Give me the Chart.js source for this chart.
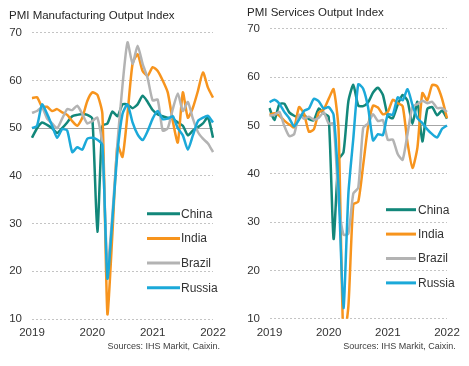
<!DOCTYPE html>
<html lang="en">
<head>
  <meta charset="UTF-8" />
  <title>PMI Output Index – Manufacturing and Services</title>
  <script src="https://cdn.jsdelivr.net/npm/chart.js"></script>
  <style>
    body {
      margin: 0;
      background: #fff;
      width: 469px;
      height: 366px;
      position: relative;
      overflow: hidden;
      font-family: Arial, 'Liberation Sans', sans-serif;
    }
    .panel {
      position: absolute;
      top: 0;
      height: 366px;
    }
    #mfgBox { left: 0; width: 234px; }
    #svcBox { left: 234px; width: 235px; }
  </style>
</head>
<body>
  <div class="panel" id="mfgBox"><canvas id="mfgChart" width="234" height="366"></canvas></div>
  <div class="panel" id="svcBox"><canvas id="svcChart" width="235" height="366"></canvas></div>

  <script>
    // monthly, Jan 2019 .. Jan 2022
    const months = [
      '2019-01','2019-02','2019-03','2019-04','2019-05','2019-06','2019-07','2019-08','2019-09','2019-10','2019-11','2019-12',
      '2020-01','2020-02','2020-03','2020-04','2020-05','2020-06','2020-07','2020-08','2020-09','2020-10','2020-11','2020-12',
      '2021-01','2021-02','2021-03','2021-04','2021-05','2021-06','2021-07','2021-08','2021-09','2021-10','2021-11','2021-12',
      '2022-01'
    ];
    const yearTicks = ['2019', '2020', '2021', '2022'];
    const yTicks = [10, 20, 30, 40, 50, 60, 70];

    const seriesNames = ['China', 'India', 'Brazil', 'Russia'];
    const seriesColors = ['#12877a', '#f7941d', '#b3b3b3', '#1ba9d9'];

    // Manufacturing output index
    const mfgChina = [48, 50, 51.2, 50.7, 50, 49, 50, 51.2, 52.5, 52.8, 53, 52.8, 52, 28.3, 50.5, 51, 53.5, 52.5, 55, 55, 54.2, 55, 56.8, 55.5, 53.8, 52.9, 52.5, 52.2, 51.9, 51.2, 50.5, 48.5, 49.5, 50.2, 51, 52.3, 48];
    const mfgIndia = [56.3, 56.5, 54.5, 54.5, 53.6, 54, 53.3, 52.8, 51.5, 50.5, 52.2, 55.7, 57.5, 57, 53, 11, 28, 46.5, 44, 53, 63.5, 65.5, 62, 61, 62.8, 62, 60, 57.5, 51.5, 47, 57.5, 52.2, 54.3, 57.8, 61.7, 58.5, 56.4];
    const mfgBrazil = [53.2, 53.6, 54.4, 52, 51, 50, 52, 54, 53.8, 54.7, 53, 51, 51.5, 52.2, 46.5, 21, 32, 47, 59, 68, 63.5, 67.3, 63.5, 60.5, 55.8, 56, 49.5, 50, 54, 57.3, 53.6, 55.5, 52, 49.2, 47.8, 46.8, 45];
    const mfgRussia = [50, 50.5, 55, 53, 50.5, 48, 49.8, 49.5, 45, 46, 45.5, 47.8, 48, 47.6, 46.5, 18.5, 31, 45, 53, 55, 51.2, 48.7, 47.5, 49.4, 52, 53.6, 51.9, 52, 52.5, 50, 48.5, 45.5, 48.5, 51.5, 52.2, 52.6, 51.2];

    // Services output index
    const svcChina = [53.6, 51.1, 54.4, 54.5, 52.7, 52, 51.6, 52.1, 51.3, 51.1, 53.5, 52.5, 51.8, 26.5, 43, 44.4, 55, 58.4, 54.1, 54, 54.8, 56.8, 57.8, 56.3, 52, 51.5, 54.3, 56.3, 55.1, 50.3, 54.9, 46.7, 53.4, 53.8, 52.1, 53.1, 51.4];
    const svcIndia = [52.2, 52.5, 52, 51, 50.2, 49.6, 53.8, 52.4, 48.7, 49.2, 52.7, 53.3, 55.5, 57.5, 49.3, 5.4, 12.6, 33.7, 34.2, 41.8, 49.8, 54.1, 53.7, 52.3, 52.8, 55.3, 54.6, 54, 46.4, 41.2, 45.4, 56.7, 55.2, 58.4, 58.1, 55.5, 51.5];
    const svcBrazil = [52, 52.2, 52.8, 49.9, 47.8, 48.2, 52.2, 51.4, 51.8, 51.2, 51.6, 52.7, 50.4, 50.4, 34.5, 27.4, 27.6, 35.9, 37.1, 49.5, 50.4, 52.3, 50.9, 51.1, 47, 47.1, 44.1, 42.9, 48.3, 53.9, 54.4, 55.1, 54.6, 54.9, 53.6, 53.6, 52.8];
    const svcRussia = [54.8, 55.3, 54.5, 52.8, 51.5, 49.8, 51.2, 53, 53.5, 55.5, 55, 53.5, 53.8, 52.2, 37.1, 12.2, 35.9, 47.3, 58.5, 57.6, 53.7, 46.9, 48.2, 48, 52.3, 52.2, 55.8, 55.2, 57.5, 54.2, 51.5, 50.5, 49.2, 48.2, 47.5, 49.3, 50];

    const sourceText = 'Sources: IHS Markit, Caixin.';
    const fontFamily = "Arial, 'Liberation Sans', sans-serif";

    // solid line at 50, under the data
    const fiftyLine = {
      id: 'fiftyLine',
      beforeDatasetsDraw(chart) {
        const { ctx, chartArea, scales } = chart;
        const y = Math.round(scales.y.getPixelForValue(50)) + 0.5;
        ctx.save();
        ctx.strokeStyle = '#a6a6a6';
        ctx.lineWidth = 1;
        ctx.beginPath();
        ctx.moveTo(chartArea.left, y);
        ctx.lineTo(chartArea.right, y);
        ctx.stroke();
        ctx.restore();
      }
    };

    // legend drawn inside the plot, lower right
    const inlineLegend = {
      id: 'inlineLegend',
      afterDatasetsDraw(chart, args, opts) {
        const { ctx, chartArea } = chart;
        ctx.save();
        ctx.font = '12px ' + fontFamily;
        ctx.textBaseline = 'middle';
        ctx.textAlign = 'left';
        chart.data.datasets.forEach((ds, i) => {
          const y = opts.top + i * opts.step;
          const x0 = chartArea.right - opts.lineStart;
          ctx.strokeStyle = ds.borderColor;
          ctx.lineWidth = 3;
          ctx.beginPath();
          ctx.moveTo(x0, y);
          ctx.lineTo(x0 + opts.lineLen, y);
          ctx.stroke();
          ctx.fillStyle = '#333';
          ctx.fillText(ds.label, chartArea.right - opts.textStart, y + 0.5);
        });
        ctx.restore();
      }
    };

    const sourceNote = {
      id: 'sourceNote',
      afterDraw(chart, args, opts) {
        const { ctx, chartArea } = chart;
        ctx.save();
        ctx.font = '9px ' + fontFamily;
        ctx.fillStyle = '#404040';
        ctx.textAlign = 'right';
        ctx.textBaseline = 'middle';
        ctx.fillText(sourceText, chartArea.right + opts.dx, opts.y);
        ctx.restore();
      }
    };

    function makePanel(canvasId, title, values, cfg) {
      const datasets = seriesNames.map((name, i) => ({
        label: name,
        data: values[i],
        borderColor: seriesColors[i],
        backgroundColor: seriesColors[i],
        borderWidth: 2.5,
        pointRadius: 0,
        tension: 0.2,
        order: seriesNames.length - i
      }));

      return new Chart(document.getElementById(canvasId), {
        type: 'line',
        data: { labels: months, datasets },
        plugins: [fiftyLine, inlineLegend, sourceNote],
        options: {
          responsive: false,
          animation: false,
          layout: { padding: { left: cfg.padLeft, right: cfg.padRight, top: 0, bottom: cfg.padBottom } },
          plugins: {
            legend: { display: false },
            tooltip: { enabled: false },
            title: {
              display: true,
              text: title,
              align: 'start',
              color: '#262626',
              font: { family: fontFamily, size: 11.5, weight: 'normal' },
              padding: { top: cfg.titleTop, bottom: cfg.titleBottom }
            },
            inlineLegend: cfg.legend,
            sourceNote: cfg.source
          },
          scales: {
            x: {
              offset: false,
              grid: { display: false, drawTicks: false },
              border: { display: false },
              afterFit: (axis) => { axis.height = cfg.xHeight; },
              ticks: {
                autoSkip: false,
                maxRotation: 0,
                minRotation: 0,
                padding: cfg.xPad,
                color: '#333',
                font: { family: fontFamily, size: 11.5 },
                callback: (v, i) => (i % 12 === 0 ? yearTicks[i / 12] : '')
              }
            },
            y: {
              min: yTicks[0],
              max: yTicks[yTicks.length - 1],
              afterBuildTicks: (axis) => { axis.ticks = yTicks.map(v => ({ value: v })); },
              afterFit: (axis) => { axis.width = cfg.yWidth; },
              grid: {
                drawTicks: false,
                color: (c) => (c.tick && c.tick.value === 50 ? 'rgba(0,0,0,0)' : '#c4c4c4')
              },
              border: { display: false, dash: [2, 2] },
              ticks: {
                padding: cfg.yPad,
                color: '#333',
                font: { family: fontFamily, size: 11.5 }
              }
            }
          }
        }
      });
    }

    makePanel('mfgChart', 'PMI Manufacturing Output Index',
      [mfgChina, mfgIndia, mfgBrazil, mfgRussia], {
        padLeft: 9, padRight: 21, padBottom: 26,
        titleTop: 9, titleBottom: 10,
        xPad: 7, yPad: 10, xHeight: 21, yWidth: 23,
        legend: { top: 213.7, step: 24.7, lineStart: 66, lineLen: 33, textStart: 32 },
        source: { dx: 7, y: 346.5 }
      });

    makePanel('svcChart', 'PMI Services Output Index',
      [svcChina, svcIndia, svcBrazil, svcRussia], {
        padLeft: 13, padRight: 22, padBottom: 26,
        titleTop: 6, titleBottom: 9,
        xPad: 7.4, yPad: 9.5, xHeight: 21.3, yWidth: 22.5,
        legend: { top: 209.7, step: 24.4, lineStart: 61, lineLen: 30, textStart: 29 },
        source: { dx: 8.7, y: 346.5 }
      });
  </script>
</body>
</html>
